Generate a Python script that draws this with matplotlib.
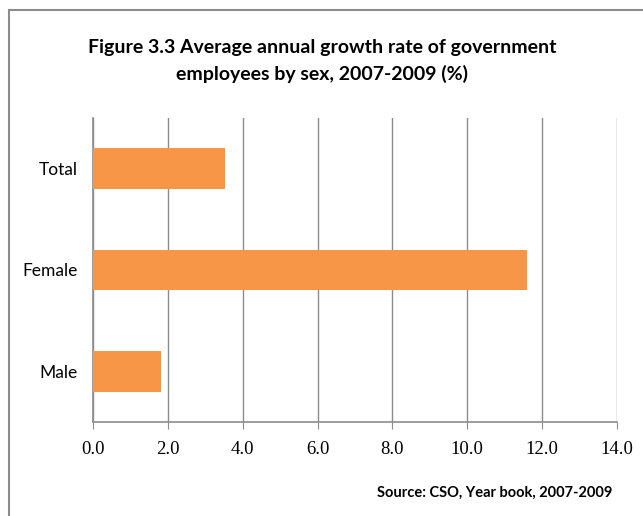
import matplotlib.pyplot as plt
from matplotlib.patches import Rectangle

categories = ['Male', 'Female', 'Total']
growth = [1.82, 11.6, 3.53]
x_ticks = [0, 2, 4, 6, 8, 10, 12, 14]
x_labels = ['%.1f' % t for t in x_ticks]

title = 'Figure 3.3 Average annual growth rate of government\nemployees by sex, 2007-2009 (%)'
source = 'Source: CSO, Year book, 2007-2009'

fig = plt.figure(figsize=(6.43, 5.16), dpi=100)
W, H = 643, 516

# outer chart frame
fig.patches.append(Rectangle((9 / W, -0.1), 1.0, 1.1 - 10 / H, transform=fig.transFigure,
                             fill=False, edgecolor='#8c8c8c', linewidth=1.5))

ax = fig.add_axes([93 / W, 1 - 422 / H, (617 - 93) / W, (422 - 118) / H])
ax.barh(range(len(categories)), growth, height=0.4, color='#f79646', zorder=3)

ax.set_xlim(0, 14)
ax.set_ylim(-0.5, len(categories) - 0.5)
ax.set_xticks(x_ticks)
ax.set_xticklabels(x_labels, fontfamily='Liberation Serif', fontsize=13.5)
ax.set_yticks(range(len(categories)))
ax.set_yticklabels(categories, fontfamily='Lato', fontsize=12.5)
ax.xaxis.grid(True, color='#8c8c8c', linewidth=1)
ax.set_axisbelow(True)
for s in ['top', 'right']:
    ax.spines[s].set_visible(False)
for s in ['left', 'bottom']:
    ax.spines[s].set_color('#8c8c8c')
    ax.spines[s].set_linewidth(1.2)
ax.tick_params(axis='x', direction='out', length=5, color='#8c8c8c', pad=9)
ax.tick_params(axis='y', length=0, pad=11)

fig.text(322 / W, 1 - 61 / H, title, ha='center', va='center', fontfamily='Lato',
         fontweight='bold', fontsize=14, linespacing=1.65)
fig.text(612 / W, 1 - 493 / H, source, ha='right', va='center', fontfamily='Lato',
         fontweight='bold', fontsize=10.5)

fig.savefig('out.png', dpi=100)
